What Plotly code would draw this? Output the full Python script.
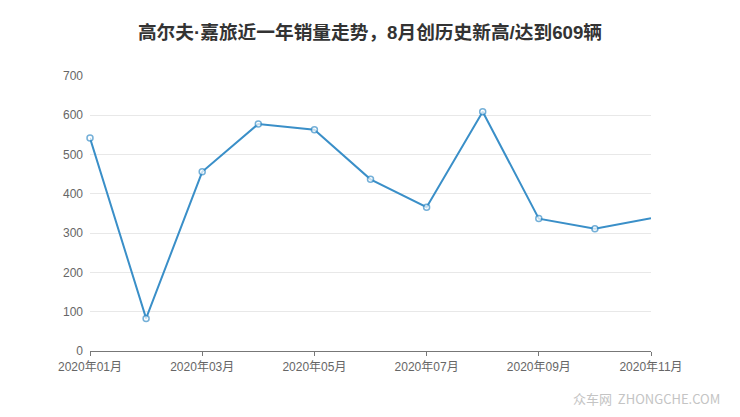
import plotly.graph_objects as go

months = ["2020年01月", "2020年02月", "2020年03月", "2020年04月", "2020年05月", "2020年06月",
          "2020年07月", "2020年08月", "2020年09月", "2020年10月", "2020年11月"]
sales = [542, 83, 456, 578, 563, 437, 366, 609, 337, 311, 338]
tick_labels = ["2020年01月", "2020年03月", "2020年05月", "2020年07月", "2020年09月", "2020年11月"]
y_ticks = [0, 100, 200, 300, 400, 500, 600, 700]
title_text = "高尔夫·嘉旅近一年销量走势，8月创历史新高/达到609辆"
watermark = "众车网  ZHONGCHE.COM"

FONT = "Liberation Sans, Noto Sans CJK SC, sans-serif"
LINE = "#3a8fc8"

# page body has an 8px offset; figure sized to fit the 740x417 window
W, H = 732, 409

fig = go.Figure()
fig.add_trace(go.Scatter(
    x=months, y=sales, mode="lines+markers",
    line=dict(color=LINE, width=2),
    marker=dict(size=[6] * (len(sales) - 1) + [0], color="white",
                line=dict(color=LINE, width=1.5)),
    cliponaxis=False, showlegend=False,
))

fig.update_layout(
    width=W, height=H,
    margin=dict(l=82, r=89, t=68, b=66),
    paper_bgcolor="white", plot_bgcolor="white",
    font=dict(family=FONT, color="#666666", size=12),
    title=dict(text=title_text, x=362 / W, xanchor="center", xref="container",
               y=1 - 24 / H, yanchor="middle",
               font=dict(family=FONT, size=18.7, color="#333333", weight="bold")),
    xaxis=dict(type="category", categoryorder="array", categoryarray=months,
               range=[0, len(months) - 1],
               tickvals=tick_labels, ticktext=tick_labels,
               showgrid=False, showline=True, linecolor="#777777", linewidth=1,
               ticks="outside", ticklen=4, tickcolor="#777777",
               ticklabelstandoff=1,
               tickfont=dict(size=12, color="#666666"), fixedrange=True),
    yaxis=dict(range=[0, 700], tickvals=y_ticks, showgrid=True, gridcolor="#e8e8e8",
               gridwidth=1, zeroline=False, showline=False, ticks="",
               ticklabelstandoff=6,
               tickfont=dict(size=12, color="#666666"), fixedrange=True),
    annotations=[dict(text=watermark, xref="paper", yref="paper", x=(714 - 82) / 561,
                      y=-(390 - 343) / 275,
                      xanchor="right", yanchor="middle", showarrow=False,
                      font=dict(size=13, color="#c4c4c4",
                                family="Noto Sans CJK SC, sans-serif"))],
)

fig.write_html("out.html")
